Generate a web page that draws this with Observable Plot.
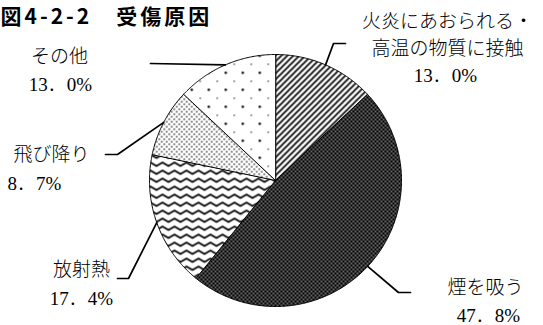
<!DOCTYPE html>
<html><head><meta charset="utf-8">
<script src="https://cdn.jsdelivr.net/npm/d3@7"></script>
<script src="https://cdn.jsdelivr.net/npm/@observablehq/plot@0.6"></script>
<style>body{margin:0;background:#fff} g[font-weight="bold"] text{letter-spacing:3px}</style>
</head><body><div id="chart"></div>
<script>
// ---- data ----
const title = "図4-2-2　受傷原因";
const categories = ["火炎にあおられる・高温の物質に接触", "煙を吸う", "放射熱", "飛び降り", "その他"];
const values = [13.0, 47.8, 17.4, 8.7, 13.0];
const nameLines = [["火炎にあおられる・", "高温の物質に接触"], ["煙を吸う"], ["放射熱"], ["飛び降り"], ["その他"]];
const valueLabels = ["13．0%", "47．8%", "17．4%", "8．7%", "13．0%"];

// ---- layout (pixels) ----
const W = 543, H = 325, CX = 275, CY = 180, R = 126;
const patternIds = ["p-hatch", "p-smoke", "p-wave", "p-dense", "p-sparse"];
const labelLayout = [
  {x: 447, ys: [21, 48], vx: 445, vy: 75, path: [[333, 43], [345, 43]]},
  {x: 485, ys: [287], vx: 488, vy: 315, path: [[398, 292], [410, 292]]},
  {x: 81, ys: [269], vx: 81, vy: 298, path: [[128, 278], [117, 278]]},
  {x: 51, ys: [154], vx: 34, vy: 183, path: [[117, 154], [105, 154]]},
  {x: 59, ys: [56], vx: 60, vy: 84, path: [[150, 63]]}
];

// ---- geometry from data ----
const pie = d3.pie().sort(null).value(d => d.value)(categories.map((name, i) => ({name, value: values[i]})));
const px = a => CX + R * Math.sin(a), py = a => CY - R * Math.cos(a);
const slicePts = [];
pie.forEach(p => {
  slicePts.push({name: p.data.name, x: CX, y: CY});
  const n = Math.max(2, Math.ceil((p.endAngle - p.startAngle) / 0.01));
  for (let k = 0; k <= n; k++) {
    const a = p.startAngle + (p.endAngle - p.startAngle) * k / n;
    slicePts.push({name: p.data.name, x: px(a), y: py(a)});
  }
});
const leaderPts = [];
pie.forEach((p, i) => {
  const m = (p.startAngle + p.endAngle) / 2;
  leaderPts.push({name: p.data.name, x: px(m), y: py(m)});
  labelLayout[i].path.forEach(([x, y]) => leaderPts.push({name: p.data.name, x, y}));
});
const texts = [];
categories.forEach((c, i) => {
  const L = labelLayout[i];
  nameLines[i].forEach((t, j) => texts.push({x: L.x, y: L.ys[j], text: t}));
  texts.push({x: L.vx, y: L.vy, text: valueLabels[i]});
});

function defs() {
  const d = d3.create("svg:defs");
  const mk = (id, w, h) => d.append("pattern").attr("id", id).attr("patternUnits", "userSpaceOnUse").attr("width", w).attr("height", h);
  // diagonal hatching
  let p = mk("p-hatch", 6, 6);
  p.append("rect").attr("width", 6).attr("height", 6).attr("fill", "#fff");
  p.append("path").attr("d", "M0,6L6,0M-1,1L1,-1M5,7L7,5").attr("stroke", "#000").attr("stroke-width", 1.6);
  // dense dark
  p = mk("p-smoke", 4, 4);
  p.append("rect").attr("width", 4).attr("height", 4).attr("fill", "#000");
  p.append("circle").attr("cx", 1).attr("cy", 1).attr("r", 0.75).attr("fill", "#fff");
  p.append("circle").attr("cx", 3).attr("cy", 3).attr("r", 0.75).attr("fill", "#fff");
  // waves
  p = mk("p-wave", 12, 8);
  p.append("rect").attr("width", 12).attr("height", 8).attr("fill", "#fff");
  p.append("path").attr("d", "M-3,2L0,5.5L6,2L12,5.5L15,2").attr("fill", "none").attr("stroke", "#000").attr("stroke-width", 1.7);
  // dense dots
  p = mk("p-dense", 5, 5);
  p.append("rect").attr("width", 5).attr("height", 5).attr("fill", "#fff");
  p.append("circle").attr("cx", 1.25).attr("cy", 1.25).attr("r", 0.8).attr("fill", "#000");
  p.append("circle").attr("cx", 3.75).attr("cy", 3.75).attr("r", 0.8).attr("fill", "#000");
  // sparse dots
  p = mk("p-sparse", 17, 17);
  p.append("rect").attr("width", 17).attr("height", 17).attr("fill", "#fff");
  p.append("circle").attr("cx", 4.25).attr("cy", 4.25).attr("r", 1.2).attr("fill", "#000");
  p.append("circle").attr("cx", 12.75).attr("cy", 12.75).attr("r", 0.7).attr("fill", "#000");
  return d.node();
}

const labelFont = "'Liberation Serif','Noto Sans CJK JP',serif";
const chart = Plot.plot({
  width: W, height: H,
  x: {domain: [0, W], range: [0, W], axis: null},
  y: {domain: [0, H], range: [0, H], axis: null},
  color: {domain: categories, range: patternIds.map(id => `url(#${id})`)},
  style: {background: "#fff", overflow: "visible"},
  marks: [
    defs,
    Plot.line(slicePts, {x: "x", y: "y", z: "name", fill: "name", stroke: "#000", strokeWidth: 1, curve: "linear-closed"}),
    Plot.line(leaderPts, {x: "x", y: "y", z: "name", stroke: "#000", strokeWidth: 1.7}),
    Plot.text(texts, {x: "x", y: "y", text: "text", fontSize: 19, fill: "#000", textAnchor: "middle", lineAnchor: "middle", fontFamily: labelFont, fontWeight: 300}),
    Plot.text([{x: 0, y: 17, text: title}], {x: "x", y: "y", text: "text", fontSize: 21, fontWeight: "bold", fill: "#000", textAnchor: "start", lineAnchor: "middle", fontFamily: "'Noto Sans CJK JP',sans-serif"})
  ]
});
document.getElementById("chart").appendChild(chart);
</script>
</body></html>
